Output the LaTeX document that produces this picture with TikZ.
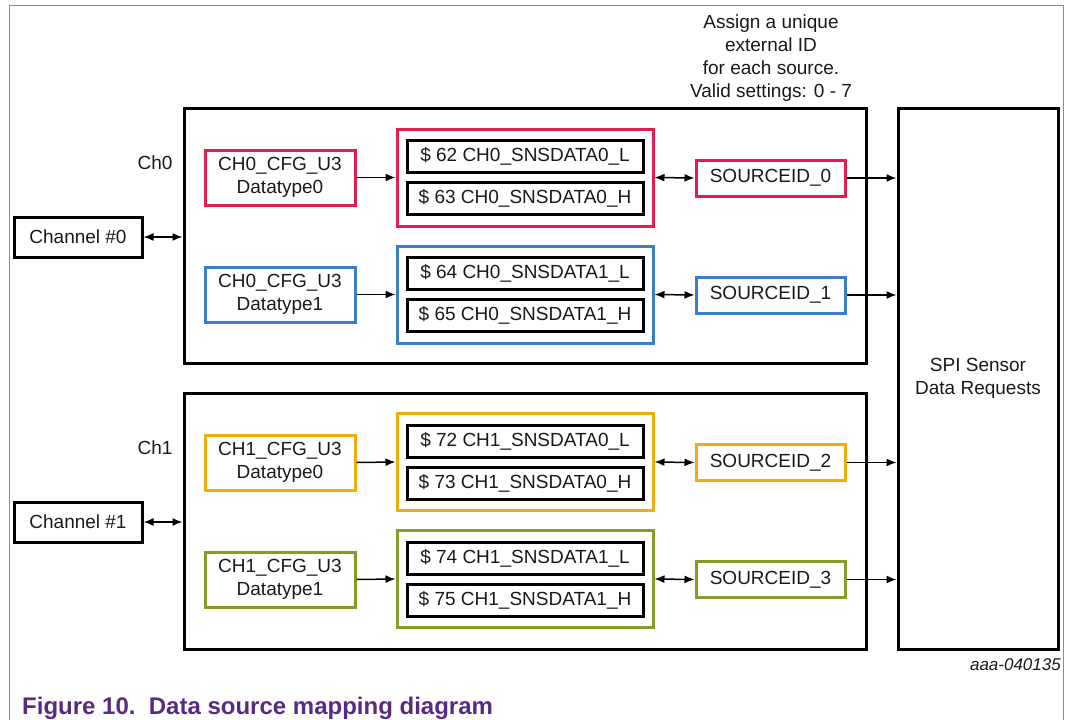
\documentclass[tikz,border=0pt]{standalone}
\usepackage{fontspec}
\setmainfont{Liberation Sans}
\usetikzlibrary{arrows.meta}

\definecolor{nxppurple}{HTML}{5A2A82}
\definecolor{framepurple}{HTML}{9A7BBE}
\definecolor{cred}{HTML}{E31C4F}
\definecolor{cblue}{HTML}{3B7FC8}
\definecolor{cyellow}{HTML}{F2AC0C}
\definecolor{colive}{HTML}{8A9A2A}

\tikzset{
  txt/.style={font=\fontsize{19}{23}\selectfont, text=black!90, align=center, inner sep=0pt},
  chbox/.style={draw=black, line width=3pt, minimum width=682pt, inner sep=0pt},
  plainbox/.style={draw=black, line width=3pt, txt, minimum width=128pt, minimum height=40pt},
  cfgbox/.style={draw=#1, line width=3pt, txt, minimum width=150pt, minimum height=55pt},
  grpbox/.style={draw=#1, line width=3pt, minimum width=256pt, minimum height=97pt, inner sep=0pt},
  regbox/.style={draw=black, line width=3pt, txt, minimum width=236pt, minimum height=32pt},
  sidbox/.style={draw=#1, line width=3pt, txt, minimum width=149pt, minimum height=36pt},
  tip/.style={Latex[length=10pt,width=8pt]},
  conn/.style={line width=1.5pt, -{Latex[length=10pt,width=8pt]}},
  biconn/.style={line width=1.5pt, {Latex[length=10pt,width=8pt]}-{Latex[length=10pt,width=8pt]}},
}

\begin{document}
\begin{tikzpicture}[x=1pt, y=-1pt]
  \useasboundingbox (0,0) rectangle (1066,720);

  % open frame around the figure
  \draw[framepurple, line width=1pt] (9,720) -- (9,5) -- (1063,5) -- (1063,720);

  % channel containers and SPI block
  \node[chbox, minimum height=255pt] (ch0box) at (525,235.5) {};
  \node[chbox, minimum height=256pt] (ch1box) at (525,521) {};
  \node[draw=black, line width=3pt, txt, minimum width=160pt, minimum height=541pt] (spi) at (978,378.5) {SPI Sensor\\Data Requests};

  \node[plainbox] (chan0) at (78,237) {Channel \#0};
  \node[plainbox] (chan1) at (78,522) {Channel \#1};

  \node[txt] (lbl0) at (155,163) {Ch0};
  \node[txt] (lbl1) at (155,448) {Ch1};

  \node[txt] (note) at (771,58) {Assign a unique\\external ID\\for each source.\\Valid settings: 0 - 7};

  % configuration sources
  \node[cfgbox=cred]    (cfg0) at (280,177.5) {CH0\_CFG\_U3\\Datatype0};
  \node[cfgbox=cblue]   (cfg1) at (280,294.5) {CH0\_CFG\_U3\\Datatype1};
  \node[cfgbox=cyellow] (cfg2) at (280,462.5) {CH1\_CFG\_U3\\Datatype0};
  \node[cfgbox=colive]  (cfg3) at (280,579.5) {CH1\_CFG\_U3\\Datatype1};

  % register groups
  \node[grpbox=cred]    (grp0) at (525,177.5) {};
  \node[grpbox=cblue]   (grp1) at (525,294.5) {};
  \node[grpbox=cyellow] (grp2) at (525,462) {};
  \node[grpbox=colive]  (grp3) at (525,579) {};

  \node[regbox] (r62) at (525,156.5) {\$ 62 CH0\_SNSDATA0\_L};
  \node[regbox] (r63) at (525,198.5) {\$ 63 CH0\_SNSDATA0\_H};
  \node[regbox] (r64) at (525,273.5) {\$ 64 CH0\_SNSDATA1\_L};
  \node[regbox] (r65) at (525,315.5) {\$ 65 CH0\_SNSDATA1\_H};
  \node[regbox] (r72) at (525,441) {\$ 72 CH1\_SNSDATA0\_L};
  \node[regbox] (r73) at (525,483) {\$ 73 CH1\_SNSDATA0\_H};
  \node[regbox] (r74) at (525,558) {\$ 74 CH1\_SNSDATA1\_L};
  \node[regbox] (r75) at (525,600) {\$ 75 CH1\_SNSDATA1\_H};

  % source IDs
  \node[sidbox=cred]    (sid0) at (770.5,178) {SOURCEID\_0};
  \node[sidbox=cblue]   (sid1) at (770.5,295) {SOURCEID\_1};
  \node[sidbox=cyellow] (sid2) at (770.5,462.5) {SOURCEID\_2};
  \node[sidbox=colive]  (sid3) at (770.5,579.5) {SOURCEID\_3};

  % connectors
  \draw[biconn] (chan0.east) -- (chan0.east -| ch0box.west);
  \draw[biconn] (chan1.east) -- (chan1.east -| ch1box.west);
  \foreach \i in {0,1,2,3} {
    \draw[conn] (cfg\i.east) -- (grp\i.west);
    \draw[biconn] (grp\i.east) -- (sid\i.west);
    \draw[conn] (sid\i.east) -- (sid\i.east -| spi.west);
  }

  % figure id and caption
  \node[anchor=east, inner sep=0pt, font=\fontsize{17}{20}\selectfont\itshape, text=black!90] (figid) at (1061,665) {aaa-040135};
  \node[anchor=west, inner sep=0pt, font=\fontsize{24}{28}\selectfont\bfseries, text=nxppurple] (caption) at (22,708) {Figure 10.\ \ Data source mapping diagram};
\end{tikzpicture}
\end{document}
